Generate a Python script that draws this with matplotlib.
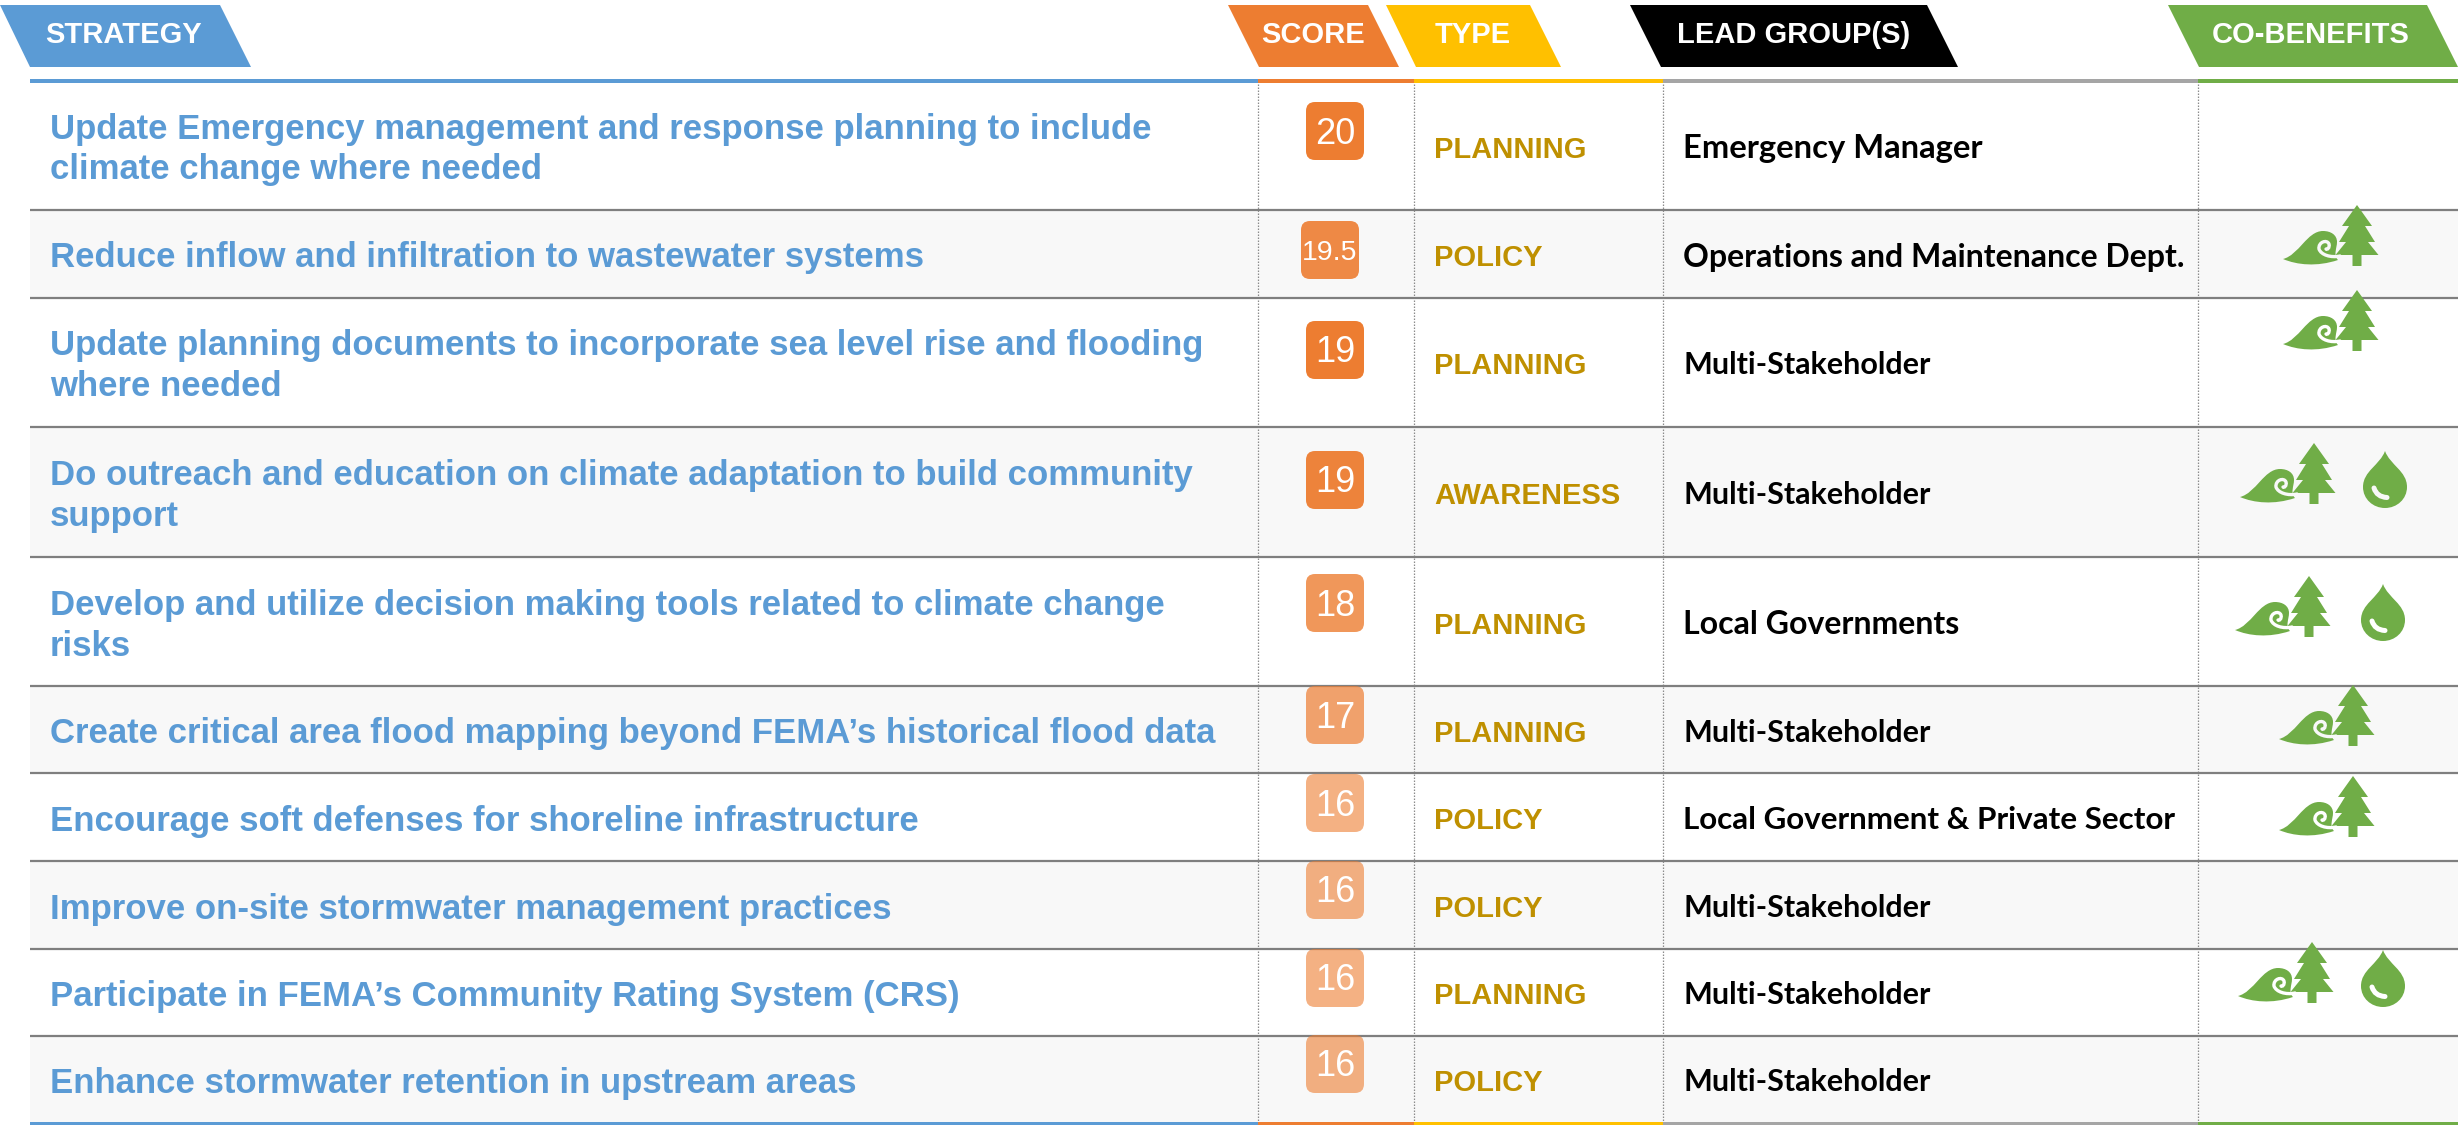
import matplotlib
matplotlib.use('Agg')
import matplotlib.pyplot as plt
from matplotlib.patches import FancyBboxPatch, PathPatch, Polygon, Rectangle
from matplotlib.path import Path
from matplotlib.transforms import Affine2D

# table content
strategies = [
    'Update Emergency management and response planning to include\nclimate change where needed',
    'Reduce inflow and infiltration to wastewater systems',
    'Update planning documents to incorporate sea level rise and flooding\nwhere needed',
    'Do outreach and education on climate adaptation to build community\nsupport',
    'Develop and utilize decision making tools related to climate change\nrisks',
    'Create critical area flood mapping beyond FEMA\u2019s historical flood data',
    'Encourage soft defenses for shoreline infrastructure',
    'Improve on-site stormwater management practices',
    'Participate in FEMA\u2019s Community Rating System (CRS)',
    'Enhance stormwater retention in upstream areas',
]
scores = ['20', '19.5', '19', '19', '18', '17', '16', '16', '16', '16']
types = ['PLANNING', 'POLICY', 'PLANNING', 'AWARENESS', 'PLANNING',
         'PLANNING', 'POLICY', 'POLICY', 'PLANNING', 'POLICY']
leads = ['Emergency Manager', 'Operations and Maintenance Dept.', 'Multi-Stakeholder',
         'Multi-Stakeholder', 'Local Governments', 'Multi-Stakeholder',
         'Local Government & Private Sector', 'Multi-Stakeholder', 'Multi-Stakeholder',
         'Multi-Stakeholder']
headers = ['STRATEGY', 'SCORE', 'TYPE', 'LEAD GROUP(S)', 'CO-BENEFITS']

# layout, in reference pixels
row_edges = [81, 210, 298, 427, 557, 686, 773, 861, 949, 1036, 1122]
col_edges = [30, 1258, 1414, 1663, 2198, 2458]
col_colors = ['#5B9BD5', '#ED7D31', '#FFC000', '#A5A5A5', '#70AD47']
head_colors = ['#5B9BD5', '#ED7D31', '#FFC000', '#000000', '#70AD47']
head_shapes = [(0, 30, 220, 251), (1228, 1259, 1368, 1399), (1386, 1416, 1530, 1561),
               (1630, 1661, 1927, 1958), (2168, 2199, 2427, 2458)]
head_text_x = [45, 1261, 1435, 1677, 2212]
badge_left = [1306, 1301, 1306, 1306, 1306, 1306, 1306, 1306, 1306, 1306]
badge_top = [102, 221, 321, 451, 574, 686, 774, 861, 949, 1035]
badge_alpha = [1.0, 0.9, 1.0, 0.95, 0.8, 0.7, 0.6, 0.6, 0.6, 0.6]
# Lato runs wider or narrower than the original font on some labels
lead_size = {'Multi-Stakeholder': 22, 'Emergency Manager': 23.6,
             'Local Government & Private Sector': 22.6}
# (tree x, tree top, drop x), None where the row has no icon
icons = [None, (2357, 205, None), (2357, 290, None), (2314, 443, 2385), (2309, 576, 2383),
         (2353, 685, None), (2353, 776, None), None, (2312, 942, 2383), None]

fig = plt.figure(figsize=(24.58, 11.25), dpi=100)
ax = fig.add_axes([0, 0, 1, 1])
ax.set_xlim(0, 2458)
ax.set_ylim(1125, 0)
ax.axis('off')

green = '#70AD47'
row_bg = '#F8F8F8'


def draw_tree(x, top, bg):
    tr = Affine2D().translate(x, top) + ax.transData
    half = [(0, 0), (15, 21), (8, 21), (18, 37), (11, 37), (21.5, 50), (4.5, 50), (4.5, 61)]
    pts = half + [(-a, b) for a, b in reversed(half[1:])]
    ax.add_patch(Polygon(pts, closed=True, fc=green, ec='none', transform=tr, zorder=5))
    # wave
    verts = [(-74, 54),
             (-58, 50), (-50, 26), (-34, 26),
             (-26, 26), (-20, 30), (-20, 37),
             (-20, 43), (-24, 50), (-19, 55),
             (-40, 62), (-60, 60), (-74, 54)]
    codes = [Path.MOVETO] + [Path.CURVE4] * 12
    ax.add_patch(PathPatch(Path(verts, codes), fc=green, ec='none', transform=tr, zorder=5))
    curl = [(-17, 51), (-26, 53), (-36, 50), (-38, 44), (-39, 37), (-30, 34),
            (-28, 39), (-27, 43), (-30, 45), (-31, 44)]
    curl_codes = [Path.MOVETO] + [Path.CURVE4] * 9
    ax.add_patch(PathPatch(Path(curl, curl_codes), fc='none', ec=bg, lw=2.4,
                           capstyle='round', transform=tr, zorder=6))


def draw_drop(x, top, bg):
    tr = Affine2D().translate(x, top) + ax.transData
    verts = [(0, 0),
             (5, 14), (22, 20), (22, 36),
             (22, 48), (12, 57), (0, 57),
             (-12, 57), (-22, 48), (-22, 36),
             (-22, 20), (-5, 14), (0, 0)]
    codes = [Path.MOVETO] + [Path.CURVE4] * 12
    ax.add_patch(PathPatch(Path(verts, codes), fc=green, ec='none', transform=tr, zorder=5))
    glint = [(-11, 37), (-9, 43), (-5, 46), (2, 46.5)]
    ax.add_patch(PathPatch(Path(glint, [Path.MOVETO] + [Path.CURVE4] * 3), fc='none', ec=bg,
                           lw=3.6, capstyle='round', transform=tr, zorder=6))


# header tabs
for label, shape, color, tx in zip(headers, head_shapes, head_colors, head_text_x):
    tl, bl, tr_x, br = shape
    ax.add_patch(Polygon([(tl, 5), (tr_x, 5), (br, 67), (bl, 67)], closed=True, fc=color, ec='none'))
    ax.text(tx, 35, label, color='white', fontsize=21, fontweight='bold',
            family='Liberation Sans', va='center', ha='left')

# row bands and rules
for i in range(len(strategies)):
    if i % 2 == 1:
        ax.add_patch(Rectangle((col_edges[0], row_edges[i]), col_edges[-1] - col_edges[0],
                               row_edges[i + 1] - row_edges[i], fc=row_bg, ec='none', zorder=0))
for y in row_edges[1:-1]:
    ax.plot([col_edges[0], col_edges[-1]], [y, y], color='#7F7F7F', lw=1.6, zorder=2,
            solid_capstyle='butt')
for x in col_edges[1:-1]:
    ax.plot([x, x], [row_edges[0], row_edges[-1]], color='#8C8C8C', lw=0.9,
            linestyle=(0, (1.2, 1.2)), zorder=1)
for k in range(5):
    for y0, y1 in [(79, 83), (1122, 1125)]:
        ax.add_patch(Rectangle((col_edges[k], y0), col_edges[k + 1] - col_edges[k], y1 - y0,
                               fc=col_colors[k], ec='none', zorder=3))

# rows
for i, strategy in enumerate(strategies):
    mid = (row_edges[i] + row_edges[i + 1]) / 2
    bg = row_bg if i % 2 == 1 else 'white'
    lines = strategy.split('\n')
    for n, line in enumerate(lines):
        y = mid + 4 + (n - (len(lines) - 1) / 2) * 41
        ax.text(50, y, line, color='#5B9BD5', fontsize=25, fontweight='bold',
                family='Liberation Sans', va='center', ha='left')

    ax.add_patch(FancyBboxPatch((badge_left[i], badge_top[i]), 58, 58,
                                boxstyle='round,pad=0,rounding_size=9', fc='#ED7D31', ec='none',
                                alpha=badge_alpha[i], zorder=4))
    narrow = len(scores[i]) > 2
    ax.text(badge_left[i] + 29, badge_top[i] + 32, scores[i], color='white',
            fontsize=20.5 if narrow else 26, family='Liberation Sans',
            va='center', ha='center', zorder=5)

    ax.text(1434, mid + 4, types[i], color='#BF9000', fontsize=21, fontweight='bold',
            family='Liberation Sans', va='center', ha='left')
    ax.text(1683, mid + 3, leads[i], color='black', fontsize=lead_size.get(leads[i], 23),
            fontweight='bold', family='Lato', va='center', ha='left')

    if icons[i] is not None:
        tree_x, tree_top, drop_x = icons[i]
        draw_tree(tree_x, tree_top, bg)
        if drop_x is not None:
            draw_drop(drop_x, tree_top + 8, bg)

plt.savefig('out.png', dpi=100)
